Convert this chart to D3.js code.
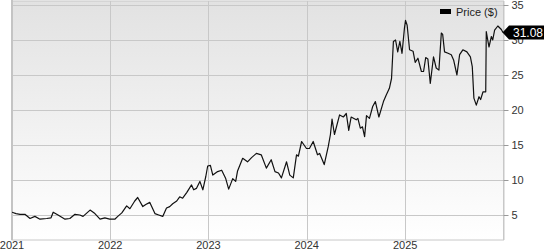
<!DOCTYPE html>
<html>
<head>
<meta charset="utf-8">
<script src="https://cdn.jsdelivr.net/npm/d3@7"></script>
<style>
  body { margin: 0; background: #fff; }
  svg { display: block; font-family: "Liberation Sans", Arial, sans-serif; }
</style>
</head>
<body>
<svg id="chart"></svg>
<script>
// price series
var dates = [
  "2021-01-01","2021-01-16","2021-01-31","2021-02-18","2021-03-09","2021-03-27","2021-04-15","2021-05-10","2021-05-26","2021-06-03",
  "2021-06-21","2021-07-17","2021-08-04","2021-08-23","2021-09-10","2021-09-22","2021-10-18","2021-11-05","2021-11-24","2021-12-12",
  "2021-12-30","2022-01-18","2022-01-29","2022-02-13","2022-03-03","2022-03-15","2022-04-02","2022-04-13","2022-05-02","2022-05-13",
  "2022-05-28","2022-06-16","2022-06-30","2022-07-15","2022-07-29","2022-08-10","2022-08-21","2022-09-05","2022-09-16","2022-09-27",
  "2022-10-12","2022-10-30","2022-11-07","2022-11-17","2022-11-30","2022-12-11","2022-12-22","2022-12-29","2023-01-08","2023-01-17",
  "2023-02-04","2023-02-19","2023-03-06","2023-03-17","2023-04-01","2023-04-12","2023-04-19","2023-05-08","2023-05-26","2023-06-10",
  "2023-06-28","2023-07-16","2023-08-04","2023-08-22","2023-09-05","2023-09-18","2023-09-29","2023-10-18","2023-10-30","2023-11-12",
  "2023-11-24","2023-12-01","2023-12-13","2023-12-31","2024-01-11","2024-01-25","2024-02-10","2024-02-18","2024-03-06","2024-03-21",
  "2024-03-29","2024-04-04","2024-04-13","2024-05-02","2024-05-16","2024-05-27","2024-06-05","2024-06-14","2024-07-03","2024-07-09",
  "2024-07-18","2024-07-26","2024-08-03","2024-08-10","2024-08-21","2024-09-02","2024-09-12","2024-09-25","2024-10-12","2024-10-22",
  "2024-11-03","2024-11-11","2024-11-18","2024-11-26","2024-12-04","2024-12-12","2024-12-20","2024-12-29","2025-01-02","2025-01-08",
  "2025-01-17","2025-01-30","2025-02-07","2025-02-17","2025-03-02","2025-03-10","2025-03-18","2025-03-26","2025-04-04","2025-04-16",
  "2025-04-26","2025-05-06","2025-05-15","2025-05-20","2025-05-27","2025-06-09","2025-06-21","2025-06-30","2025-07-12","2025-07-22",
  "2025-08-03","2025-08-18","2025-08-31","2025-09-07","2025-09-13","2025-09-22","2025-10-02","2025-10-08","2025-10-17","2025-10-27",
  "2025-10-29","2025-11-08","2025-11-17","2025-11-22","2025-11-29","2025-12-11","2025-12-24","2025-12-30"
];
var prices = [
  5.4, 5.2, 5.1, 5.1, 4.5, 4.8, 4.4, 4.5, 4.6, 5.4,
  5.0, 4.4, 4.5, 5.1, 5.0, 4.8, 5.7, 5.2, 4.4, 4.6,
  4.4, 4.4, 4.8, 5.3, 6.3, 5.9, 7.0, 7.5, 6.2, 6.5,
  6.8, 5.2, 5.0, 4.8, 6.0, 6.2, 6.6, 7.0, 7.6, 7.4,
  8.2, 9.3, 8.6, 8.8, 9.8, 8.6, 10.5, 12.0, 12.1, 10.7,
  11.2, 11.4, 10.2, 8.7, 10.2, 9.8, 11.3, 13.1, 12.6, 13.2,
  13.8, 13.6, 11.7, 12.9, 11.2, 11.0, 10.3, 12.6, 10.7, 10.3,
  13.6, 13.4, 15.5, 14.5, 14.5, 15.5, 13.6, 13.8, 12.2, 14.8,
  16.5, 18.7, 16.5, 19.3, 19.0, 19.5, 17.1, 19.0, 18.6, 18.8,
  17.4, 17.6, 16.2, 19.2, 18.8, 20.5, 21.2, 19.0, 21.2, 22.1,
  23.1, 24.5, 29.8, 30.0, 28.3, 29.8, 28.1, 31.7, 32.8, 32.1,
  28.6, 28.4, 26.8, 27.4, 25.5, 25.5, 27.5, 27.3, 23.8, 27.6,
  26.0, 25.7, 31.0, 30.8, 28.3, 28.1, 27.9, 27.1, 25.0, 27.9,
  28.6, 28.3, 27.6, 26.2, 21.7, 20.7, 21.9, 21.5, 22.6, 22.6,
  31.2, 29.0, 30.5, 30.0, 31.4, 32.0, 31.5, 31.08
];
var yTicks = [5, 10, 15, 20, 25, 30, 35];
var yearTicks = ["2021", "2022", "2023", "2024", "2025"];
var legendLabel = "Price ($)";
var lastLabel = "31.08";

var width = 544,
    height = 250,
    plotLeft = 12,
    plotRight = 503.5,
    plotTop = 1,
    plotBottom = 240;

var parse = d3.timeParse("%Y-%m-%d");
var data = dates.map(function(d, i) { return { date: parse(d), value: prices[i] }; });

var x = d3.scaleTime()
    .domain([new Date(2021, 0, 1), new Date(2026, 0, 1)])
    .range([plotLeft, plotRight]);
var y = d3.scaleLinear()
    .domain([0, 35])
    .range([250, 5]);

var svg = d3.select("#chart")
    .attr("width", width)
    .attr("height", height);

var defs = svg.append("defs");
var grad = defs.append("linearGradient")
    .attr("id", "bg")
    .attr("x1", 0).attr("y1", 0).attr("x2", 0).attr("y2", 1);
grad.append("stop").attr("offset", "0%").attr("stop-color", "#e2e2e2");
grad.append("stop").attr("offset", "100%").attr("stop-color", "#ffffff");

defs.append("clipPath").attr("id", "clip")
  .append("rect")
    .attr("x", plotLeft).attr("y", plotTop)
    .attr("width", plotRight - plotLeft).attr("height", plotBottom - plotTop);

svg.append("rect")
    .attr("x", plotLeft).attr("y", plotTop)
    .attr("width", plotRight - plotLeft).attr("height", plotBottom - plotTop)
    .attr("fill", "url(#bg)")
    .attr("stroke", "#c8c8c8")
    .attr("stroke-width", 1);

// horizontal grid
svg.append("g")
  .selectAll("line")
  .data(yTicks)
  .enter().append("line")
    .attr("x1", plotLeft).attr("x2", plotRight)
    .attr("y1", function(d) { return Math.round(y(d)) + 0.5; })
    .attr("y2", function(d) { return Math.round(y(d)) + 0.5; })
    .attr("stroke", "#c8c8c8");

// vertical grid at year starts
svg.append("g")
  .selectAll("line")
  .data(yearTicks.slice(1))
  .enter().append("line")
    .attr("x1", function(d) { return Math.round(x(new Date(+d, 0, 1))) + 0.5; })
    .attr("x2", function(d) { return Math.round(x(new Date(+d, 0, 1))) + 0.5; })
    .attr("y1", plotTop).attr("y2", plotBottom)
    .attr("stroke", "#c8c8c8");

// left edge
svg.append("line")
    .attr("x1", plotLeft).attr("x2", plotLeft)
    .attr("y1", 0).attr("y2", plotBottom)
    .attr("stroke", "#c4c4c4")
    .attr("stroke-width", 2);

// right axis
var yAxis = d3.axisRight(y)
    .tickValues(yTicks)
    .tickSize(5)
    .tickPadding(3);
var ya = svg.append("g")
    .attr("transform", "translate(" + plotRight + ",0)")
    .call(yAxis);
ya.select(".domain").attr("stroke", "#c8c8c8").attr("d", "M0.5," + plotTop + "V" + plotBottom);
ya.selectAll(".tick line").attr("stroke", "#999");
ya.selectAll(".tick text")
    .attr("fill", "#333")
    .style("font-size", "11px");

// bottom year labels
svg.append("g")
  .selectAll("text")
  .data(yearTicks)
  .enter().append("text")
    .attr("x", function(d) { return x(new Date(+d, 0, 1)); })
    .attr("y", 249)
    .attr("text-anchor", "middle")
    .attr("fill", "#333")
    .style("font-size", "11px")
    .text(function(d) { return d; });

// price line
var line = d3.line()
    .x(function(d) { return x(d.date); })
    .y(function(d) { return y(d.value); });

svg.append("path")
    .datum(data)
    .attr("clip-path", "url(#clip)")
    .attr("fill", "none")
    .attr("stroke", "#111")
    .attr("stroke-width", 1.2)
    .attr("stroke-linejoin", "round")
    .attr("d", line);

// legend
svg.append("rect")
    .attr("x", 440).attr("y", 9)
    .attr("width", 11).attr("height", 5)
    .attr("fill", "#000");
svg.append("text")
    .attr("x", 456).attr("y", 16)
    .attr("fill", "#222")
    .style("font-size", "11px")
    .text(legendLabel);

// last price tag
var last = data[data.length - 1];
var ty = y(last.value);
svg.append("path")
    .attr("d", "M" + (plotRight - 1) + "," + ty + "L509," + (ty - 7) + "H544V" + (ty + 7) + "H509Z")
    .attr("fill", "#000");
svg.append("text")
    .attr("x", 513).attr("y", ty + 4.5)
    .attr("fill", "#fff")
    .style("font-size", "12px")
    .text(lastLabel);
</script>
</body>
</html>
